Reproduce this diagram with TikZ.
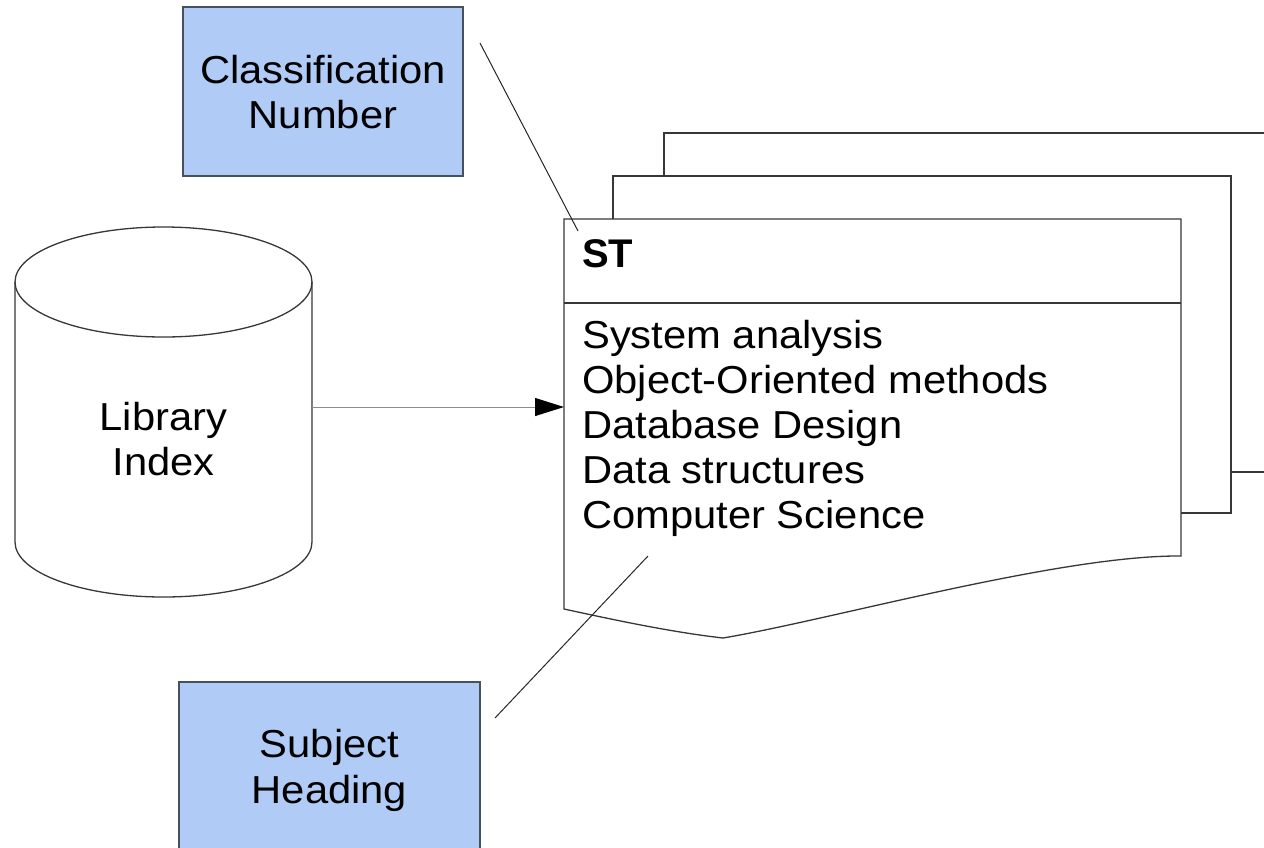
\documentclass[tikz,border=0pt]{standalone}
\usepackage{fontspec}
\setmainfont{Liberation Sans}[FakeStretch=1.07]
\newfontfamily\stfont{Liberation Sans}
\usetikzlibrary{arrows.meta}
\definecolor{boxblue}{RGB}{176,203,246}
\definecolor{boxedge}{RGB}{70,80,95}
\definecolor{outline}{RGB}{55,55,55}
\tikzset{
  txt/.style={inner sep=0pt, anchor=base, font=\fontsize{39}{45}\selectfont},
  itm/.style={inner sep=0pt, anchor=base west, font=\fontsize{39}{45}\selectfont},
  bluebox/.style={draw=boxedge, fill=boxblue, line width=1.2pt, inner sep=0pt},
  page/.style={draw=outline, fill=white, line width=1.3pt},
  conn/.style={draw=black!85, line width=1pt},
  arrowline/.style={draw=black!45, line width=1pt, -{Triangle[length=29pt,width=18pt,black]}},
}
\begin{document}
\begin{tikzpicture}[x=1pt,y=-1pt]
\useasboundingbox (0,0) rectangle (1264,847);
\clip (0,0) rectangle (1264,847);

% stacked pages
\path[page] (664,133) rectangle (1300,472);
\path[page] (613,176) rectangle (1231,513);
\path[page] (564,219) -- (1181,219) -- (1181,556)
  .. controls (1060,555) and (830,620) .. (723,638)
  .. controls (670,632) and (610,619) .. (564,609) -- cycle;
\draw[page] (564,303) -- (1181,303);
\coordinate (docW) at (564,407);

\node[inner sep=0pt, anchor=base west, font=\stfont\bfseries\fontsize{40}{45}\selectfont] (st) at (582,267) {ST};
\node[itm] (i1) at (582,348) {System analysis};
\node[itm] (i2) at (582,393) {Object-Oriented methods};
\node[itm] (i3) at (582,438) {Database Design};
\node[itm] (i4) at (582,483) {Data structures};
\node[itm] (i5) at (582,528) {Computer Science};

% cylinder
\draw[page] (15,282) -- (15,542)
  arc[start angle=180, end angle=0, x radius=148.5, y radius=55]
  -- (312,282)
  arc[start angle=0, end angle=-180, x radius=148.5, y radius=55] -- cycle;
\draw[outline, line width=1.3pt] (15,282) arc[start angle=180, end angle=0, x radius=148.5, y radius=55];
\coordinate (cylE) at (312,407);
\node[txt] (lib1) at (163.5,430) {Library};
\node[txt] (lib2) at (163.5,475) {Index};

% arrow
\draw[arrowline] (cylE) -- (docW);

% blue boxes
\node[bluebox, minimum width=280pt, minimum height=169pt] (cls) at (323,91.5) {};
\node[txt] (cls1) at (323,83) {Classification};
\node[txt] (cls2) at (323,128) {Number};

\node[bluebox, minimum width=301pt, minimum height=169pt] (subj) at (329.5,766.5) {};
\node[txt] (subj1) at (329.5,757) {Subject};
\node[txt] (subj2) at (329.5,803) {Heading};

% connectors
\coordinate (c1a) at (480,43);
\coordinate (c1b) at (578,231);
\draw[conn] (c1a) -- (c1b);
\coordinate (c2a) at (495,718);
\coordinate (c2b) at (648,556);
\draw[conn] (c2a) -- (c2b);
\end{tikzpicture}
\end{document}
